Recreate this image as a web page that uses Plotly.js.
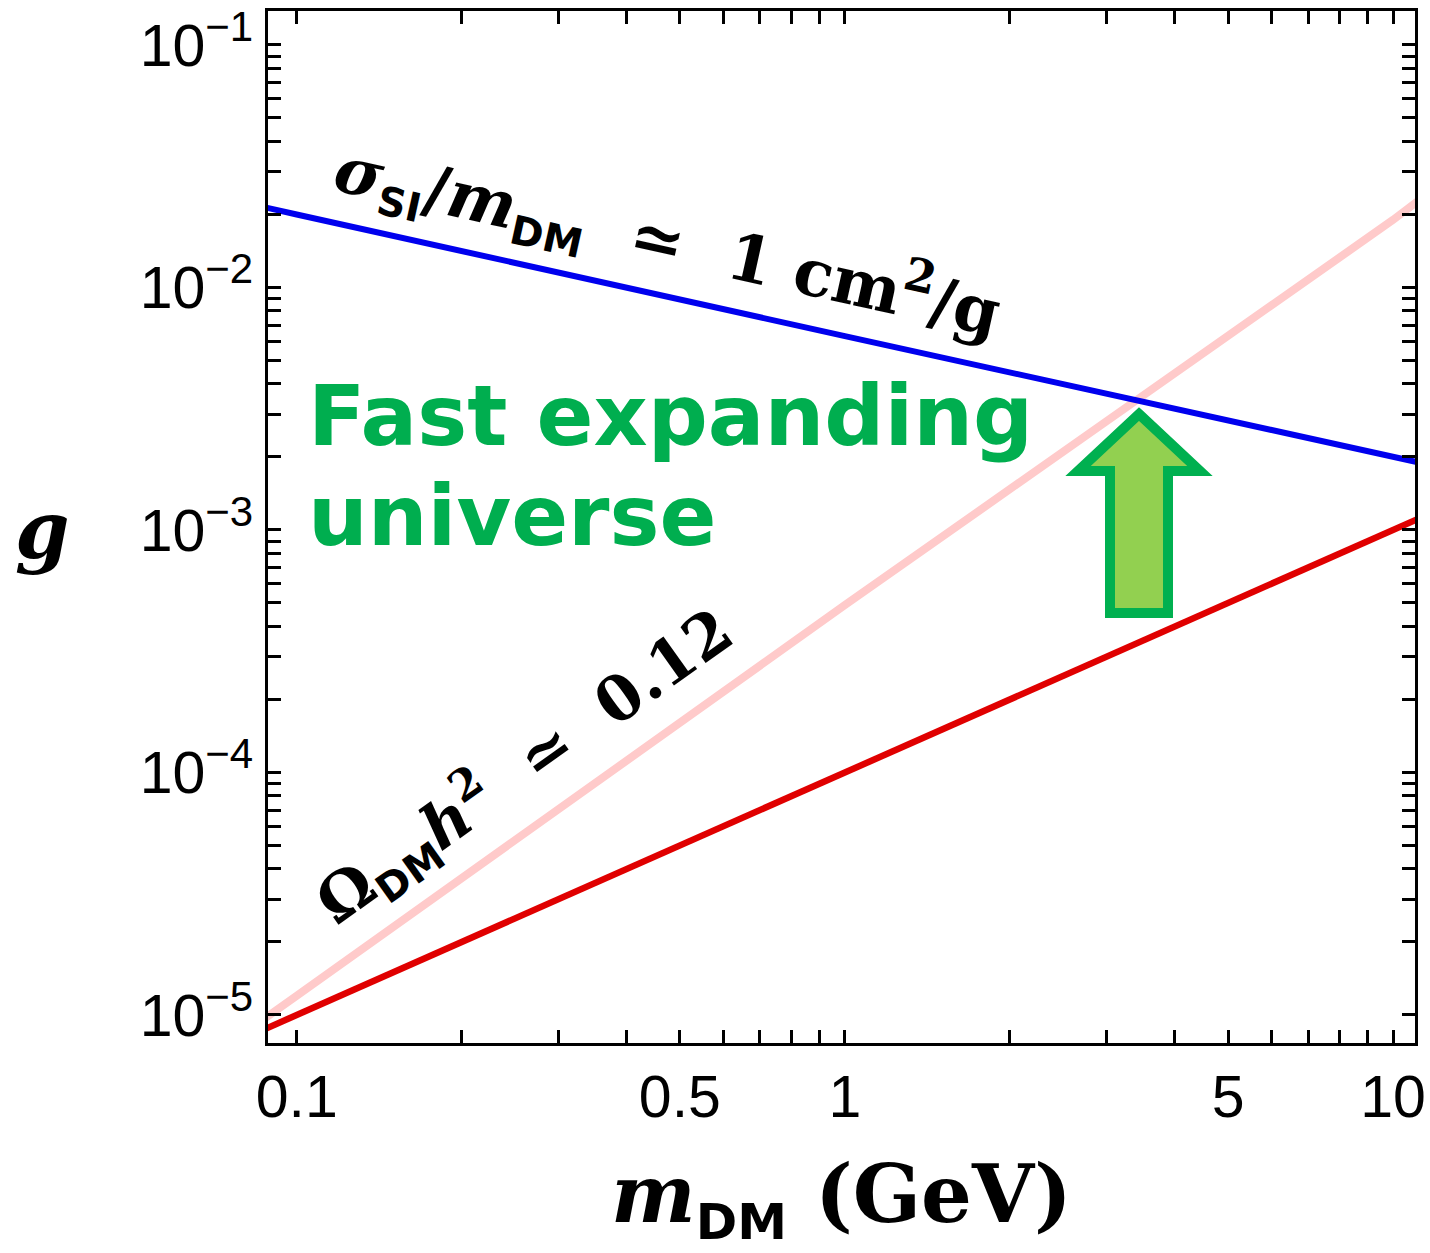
<!DOCTYPE html>
<html>
<head>
<meta charset="utf-8">
<script src="https://cdn.plot.ly/plotly-3.0.1.min.js"></script>
<style>body{margin:0;background:#fff}#plot{width:1430px;height:1253px}</style>
</head>
<body>
<div id="plot"></div>
<script>
// ---- data ----
const massGeV = [0.08, 0.1, 1, 10, 12];
const gSelfInteraction = [0.0224, 0.02, 0.0063, 0.002, 0.00183];   // sigma_SI/m_DM ~ 1 cm^2/g
const gRelicStandard   = [8e-6, 1e-5, 1e-4, 1e-3, 1.2e-3];          // Omega h^2 ~ 0.12 (red)
const gRelicFast       = [8.4e-6, 1.2e-5, 4.9e-4, 0.019, 0.026];    // fast expanding (pink)

const xTickVals = [0.1, 0.5, 1, 5, 10];
const xTickText = ['0.1', '0.5', '1', '5', '10'];
const xMinorVals = [0.2,0.3,0.4,0.6,0.7,0.8,0.9,2,3,4,6,7,8,9];
const yMajor = [1e-5, 1e-4, 1e-3, 1e-2, 1e-1];
const yMajorExp = ['−5', '−4', '−3', '−2', '−1'];

// ---- ticks ----
const yTickText = yMajor.map((v,i)=>'10<sup><span style="font-size:42px">'+yMajorExp[i]+'</span></sup>');
const yMinorVals = [];
yMajor.forEach(v=>{ if (v < 0.1) for (let k=2;k<=9;k++) yMinorVals.push(k*v); });

// pixel -> paper helpers for decorations
const L=268, R=1415, T=11, B=1043;
const px = x => (x-L)/(R-L);
const py = y => (B-y)/(B-T);

const traces = [
  {x: massGeV, y: gRelicFast, mode:'lines', line:{color:'#ffcaca', width:8}, hoverinfo:'skip'},
  {x: massGeV, y: gRelicStandard, mode:'lines', line:{color:'#e00000', width:6.5}, hoverinfo:'skip'},
  {x: massGeV, y: gSelfInteraction, mode:'lines', line:{color:'#0000ee', width:6}, hoverinfo:'skip'}
];

const arrowPts = [[1139,414],[1200,471],[1168,471],[1168,613],[1110,613],[1110,471],[1078,471]];
const arrowPath = 'M ' + arrowPts.map(p=>px(p[0]).toFixed(5)+','+py(p[1]).toFixed(5)).join(' L ') + ' Z';

const sub = (t,s) => '<sub><span style="font-family:DejaVu Sans;font-size:'+s+'px">'+t+'</span></sub>';

const tickStyle = {ticks:'inside', ticklen:13, tickwidth:3, tickcolor:'#000'};
const axisCommon = Object.assign({
  type:'log', showline:true, linecolor:'#000', linewidth:3, mirror:'ticks',
  showgrid:false, zeroline:false, tickmode:'array', automargin:false,
  tickfont:{family:'Liberation Sans, Arial, sans-serif', size:59, color:'#000'}
}, tickStyle);

const layout = {
  width:1430, height:1253,
  margin:{l:L, r:1430-R, t:T, b:1253-B},
  paper_bgcolor:'#fff', plot_bgcolor:'#fff',
  showlegend:false,
  xaxis: Object.assign({}, axisCommon, {
    range:[-1.0524, 1.040], tickvals:xTickVals, ticktext:xTickText,
    minor:Object.assign({tickmode:'array', tickvals:xMinorVals, showgrid:false}, tickStyle),
    title:{text:'<i>m</i>'+sub('DM',50)+' (GeV)', standoff:38,
      font:{family:'DejaVu Serif, serif', size:80, color:'#000', weight:'bold'}}
  }),
  yaxis: Object.assign({}, axisCommon, {
    range:[-5.1155, -0.86], tickvals:yMajor, ticktext:yTickText,
    minor:Object.assign({tickmode:'array', tickvals:yMinorVals, showgrid:false}, tickStyle)
  }),
  shapes:[{type:'path', xref:'paper', yref:'paper', path:arrowPath, layer:'below',
    fillcolor:'#92d050', line:{color:'#00b050', width:10}}],
  annotations:[
    {xref:'paper', yref:'paper', x:px(667), y:py(240), xanchor:'center', yanchor:'middle',
     textangle:12.5, showarrow:false,
     text:'<i>σ</i>'+sub('SI',40)+'/<i>m</i>'+sub('DM',40)+'  ≃  1 cm<sup>2</sup>/g',
     font:{family:'DejaVu Serif, serif', size:65, color:'#000', weight:'bold'}},
    {xref:'paper', yref:'paper', x:px(523), y:py(765), xanchor:'center', yanchor:'middle',
     textangle:-35.5, showarrow:false,
     text:'Ω'+sub('DM',40)+'<i>h</i><sup>2</sup>  ≃  0.12',
     font:{family:'DejaVu Serif, serif', size:62, color:'#000', weight:'bold'}},
    {xref:'paper', yref:'paper', x:px(306), y:py(416), xanchor:'left', yanchor:'middle',
     showarrow:false, text:'Fast expanding',
     font:{family:'DejaVu Sans, sans-serif', size:84, color:'#00ae4f', weight:'bold'}},
    {xref:'paper', yref:'paper', x:px(306), y:py(516), xanchor:'left', yanchor:'middle',
     showarrow:false, text:'universe',
     font:{family:'DejaVu Sans, sans-serif', size:84, color:'#00ae4f', weight:'bold'}},
    {xref:'paper', yref:'paper', x:px(42), y:py(530), xanchor:'center', yanchor:'middle',
     showarrow:false, text:'<i>g</i>',
     font:{family:'DejaVu Serif, serif', size:78, color:'#000', weight:'bold'}}
  ]
};

Plotly.newPlot('plot', traces, layout, {staticPlot:true, displayModeBar:false});
</script>
</body>
</html>
